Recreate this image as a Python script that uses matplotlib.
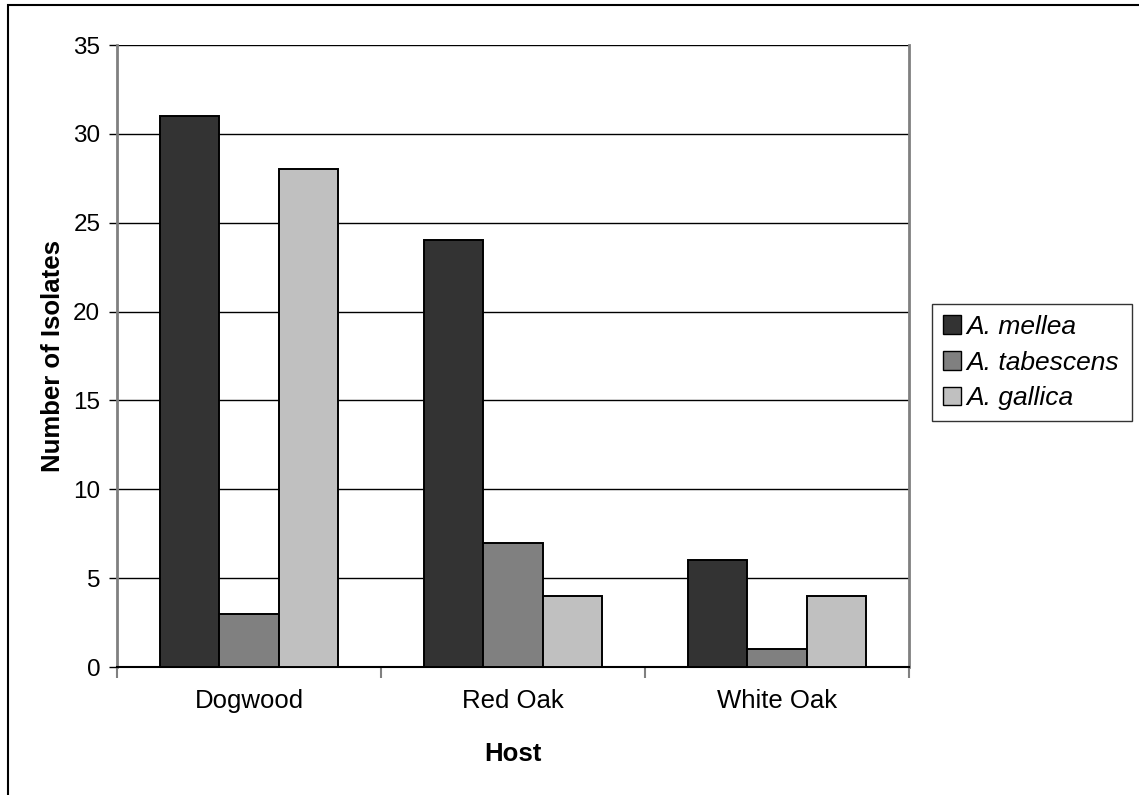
import matplotlib.pyplot as plt
from matplotlib.patches import Rectangle, Patch
import numpy as np

plt.rcParams['font.family'] = ['Liberation Sans', 'DejaVu Sans']

hosts = ['Dogwood', 'Red Oak', 'White Oak']
species = ['A. mellea', 'A. tabescens', 'A. gallica']
mellea = [31, 24, 6]
tabescens = [3, 7, 1]
gallica = [28, 4, 4]
colors = ['#333333', '#808080', '#c0c0c0']

fig = plt.figure(figsize=(11.39, 7.95), dpi=100)
ax = fig.add_axes([117 / 1139, 1 - 667 / 795, 792 / 1139, 622 / 795])

x = np.arange(len(hosts))
w = 0.2235
for i, (vals, c) in enumerate(zip([mellea, tabescens, gallica], colors)):
    ax.bar(x + (i - 1) * w, vals, w, color=c, edgecolor='black', linewidth=1.4, zorder=3)

ax.set_xlim(-0.5, 2.5)
ax.set_ylim(0, 35)
ax.set_yticks(range(0, 36, 5))
ax.yaxis.grid(True, color='black', linewidth=1)
ax.set_axisbelow(True)

# category boundaries get the tick marks, labels sit in between
ax.set_xticks([-0.5, 0.5, 1.5, 2.5])
ax.set_xticklabels([])
ax.set_xticks(x, minor=True)
ax.set_xticklabels(hosts, minor=True, fontsize=18.5)
ax.tick_params(axis='x', which='major', direction='out', length=8, width=1.5, color='#808080')
ax.tick_params(axis='x', which='minor', length=0, pad=16)
ax.tick_params(axis='y', direction='out', length=6, width=1, color='black', labelsize=17.5, pad=6)

for s in ['left', 'right']:
    ax.spines[s].set_color('#808080')
    ax.spines[s].set_linewidth(2)
ax.spines['top'].set_visible(False)
ax.spines['bottom'].set_color('black')
ax.spines['bottom'].set_linewidth(1.5)

ax.set_ylabel('Number of Isolates', fontsize=18.5, fontweight='bold', labelpad=6)
ax.set_xlabel('Host', fontsize=18.5, fontweight='bold', labelpad=21)

handles = [Patch(facecolor=c, edgecolor='black', linewidth=1) for c in colors]
leg = fig.legend(handles, species, loc='lower left',
                 bbox_to_anchor=(932 / 1139, 1 - 421 / 795, 200 / 1139, 128 / 795),
                 mode='expand', prop={'size': 19, 'style': 'italic'},
                 frameon=True, fancybox=False, edgecolor='black',
                 handlelength=0.7, handleheight=0.7, handletextpad=0.2,
                 borderaxespad=0, labelspacing=0.45, borderpad=0.4)
leg.get_frame().set_linewidth(1)

fig.patches.append(Rectangle((8 / 1139, -0.1), 1.2, 1.1 - 5 / 795, transform=fig.transFigure,
                             fill=False, edgecolor='black', linewidth=1.5))

fig.savefig('out.png', dpi=100)
